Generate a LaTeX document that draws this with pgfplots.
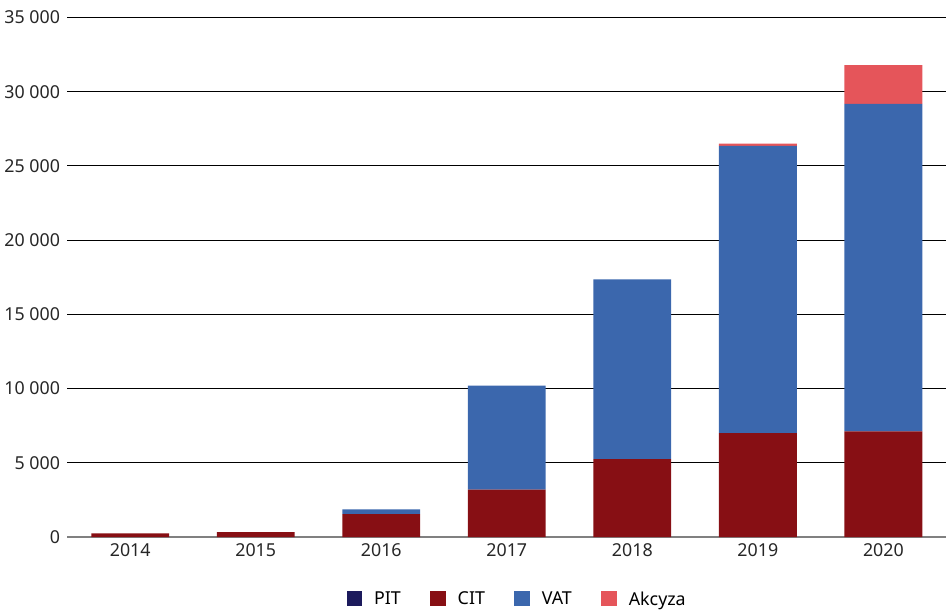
\documentclass[border=0pt]{standalone}
\usepackage{fontspec}
\setmainfont{Noto Sans}
\usepackage{pgfplots}
\pgfplotsset{compat=1.18}

\definecolor{pitc}{HTML}{1C1A5C}
\definecolor{citc}{HTML}{870F14}
\definecolor{vatc}{HTML}{3B67AD}
\definecolor{akcc}{HTML}{E5555A}

\begin{document}
\begin{tikzpicture}
\begin{axis}[
    scale only axis,
    width=656pt, height=388pt,
    ybar stacked,
    bar width=0.62,
    xmin=-0.5, xmax=6.5,
    ymin=0, ymax=35000,
    xtick={0,...,6},
    xticklabels={2014,2015,2016,2017,2018,2019,2020},
    ytick={0,5000,...,35000},
    scaled y ticks=false,
    yticklabels={0,5 000,10 000,15 000,20 000,25 000,30 000,35 000},
    ymajorgrids,
    grid style={black, line width=0.6pt},
    axis x line*=bottom,
    axis y line*=left,
    y axis line style={draw=none},
    x axis line style={gray, line width=1.3pt},
    tick style={draw=none},
    tick label style={font=\fontsize{13.3}{15}\selectfont, text=black!85},
    yticklabel style={xshift=-2pt},
    xticklabel style={yshift=-1pt},
    /pgf/number format/assume math mode=true,
    legend style={at={(0.5,-0.12)}, anchor=center, xshift=8pt, draw=none,
        legend columns=-1, font=\fontsize{13.3}{15}\selectfont,
        /tikz/every odd column/.append style={column sep=7pt},
        /tikz/every even column/.append style={column sep=20pt}},
    legend image code/.code={\fill[#1] (0pt,-5pt) rectangle (11.5pt,6.5pt);},
    extra description/.code={\path (0,1) ++(0,13pt);},
]
\addplot[fill=pitc, draw=none] coordinates {(0,0) (1,0) (2,0) (3,0) (4,0) (5,0) (6,0)};
\addlegendentry{PIT}
\addplot[fill=citc, draw=none] coordinates {(0,250) (1,330) (2,1550) (3,3200) (4,5250) (5,7000) (6,7120)};
\addlegendentry{CIT}
\addplot[fill=vatc, draw=none] coordinates {(0,0) (1,0) (2,320) (3,7000) (4,12100) (5,19350) (6,22050)};
\addlegendentry{VAT}
\addplot[fill=akcc, draw=none] coordinates {(0,0) (1,0) (2,0) (3,0) (4,0) (5,150) (6,2620)};
\addlegendentry{Akcyza}
\end{axis}
\end{tikzpicture}
\end{document}
